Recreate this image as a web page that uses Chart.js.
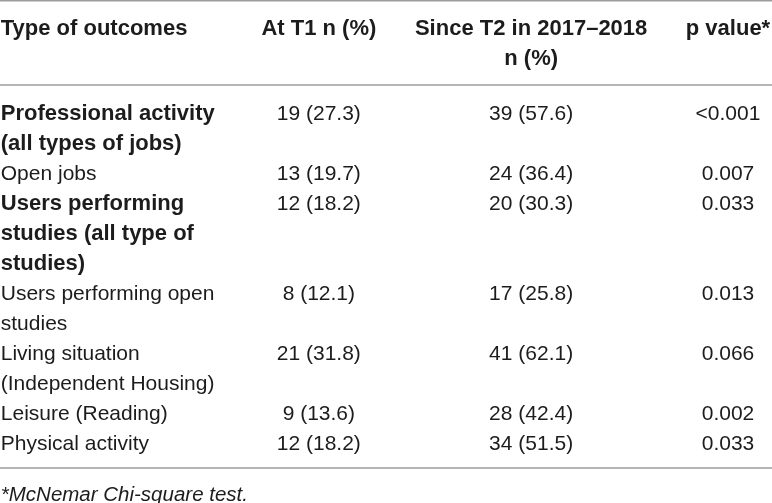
<!DOCTYPE html>
<html>
<head>
<meta charset="utf-8">
<script src="https://cdn.jsdelivr.net/npm/chart.js@4.4.1/dist/chart.umd.min.js"></script>
<style>
  html, body { margin: 0; padding: 0; background: #fff; }
  #wrap { width: 772px; height: 503px; }
</style>
</head>
<body>
<div id="wrap"><canvas id="myTable"></canvas></div>
<script>
// table content
let headers = ['Type of outcomes', 'At T1 n (%)', 'Since T2 in 2017–2018\nn (%)', 'p value*'];
let outcomes = [
    ['Professional activity', '(all types of jobs)'],
    ['Open jobs'],
    ['Users performing', 'studies (all type of', 'studies)'],
    ['Users performing open', 'studies'],
    ['Living situation', '(Independent Housing)'],
    ['Leisure (Reading)'],
    ['Physical activity']
];
let boldRows = [true, false, true, false, false, false, false];
let t1Count = [19, 13, 12, 8, 21, 9, 12];
let t1Pct = [27.3, 19.7, 18.2, 12.1, 31.8, 13.6, 18.2];
let t2Count = [39, 24, 20, 17, 41, 28, 34];
let t2Pct = [57.6, 36.4, 30.3, 25.8, 62.1, 42.4, 51.5];
let pValues = ['<0.001', '0.007', '0.033', '0.013', '0.066', '0.002', '0.033'];
let footnote = '*McNemar Chi-square test.';

// layout: column anchors as share of table width, line units on y
let colAnchor = [0.001, 0.413, 0.688, 0.943];
let colAlign = ['left', 'center', 'center', 'center'];
let headGap = 0.9, bodyStart = 2.833, ruleGap = 0.833, noteGap = 0.87;
let fontFamily = '"Liberation Sans", Arial, Helvetica, sans-serif';
let textColor = '#1c1c1c';
let ruleColor = '#9c9c9c';

let cells = [];
headers.forEach((h, c) => {
    h.split('\n').forEach((txt, i) => {
        cells.push({ x: colAnchor[c], y: i, text: txt, bold: true, align: colAlign[c] });
    });
});
let line = bodyStart;
outcomes.forEach((lines, r) => {
    let vals = [t1Count[r] + ' (' + t1Pct[r].toFixed(1) + ')', t2Count[r] + ' (' + t2Pct[r].toFixed(1) + ')', pValues[r]];
    lines.forEach((txt, i) => {
        cells.push({ x: colAnchor[0], y: line + i, text: txt, bold: boldRows[r], align: 'left' });
    });
    vals.forEach((v, c) => {
        cells.push({ x: colAnchor[c + 1], y: line, text: v, bold: false, align: colAlign[c + 1] });
    });
    line += lines.length;
});
let lastLine = line - 1;
let bottomRule = lastLine + ruleGap;
cells.push({ x: colAnchor[0], y: bottomRule + noteGap, text: footnote, italic: true, align: 'left' });

let tablePlugin = {
    id: 'tablePlugin',
    afterDatasetsDraw(chart) {
        let ctx = chart.ctx;
        let xs = chart.scales.x, ys = chart.scales.y;
        let area = chart.chartArea;
        ctx.save();
        // rules
        ctx.strokeStyle = ruleColor;
        ctx.lineWidth = 1.5;
        [area.top + 0.75, ys.getPixelForValue(1 + headGap), ys.getPixelForValue(bottomRule)].forEach((py) => {
            ctx.beginPath();
            ctx.moveTo(xs.getPixelForValue(0), py);
            ctx.lineTo(xs.getPixelForValue(1), py);
            ctx.stroke();
        });
        // text
        let meta = chart.getDatasetMeta(0);
        ctx.fillStyle = textColor;
        ctx.textBaseline = 'middle';
        meta.data.forEach((el, i) => {
            let d = chart.data.datasets[0].data[i];
            let size = d.bold ? 22 : (d.italic ? 20.5 : 21);
            ctx.font = (d.italic ? 'italic ' : '') + (d.bold ? 'bold ' : '') + size + 'px ' + fontFamily;
            ctx.textAlign = d.align;
            ctx.fillText(d.text, el.x, el.y + 1);
        });
        ctx.restore();
    }
};

let chart = new Chart(document.getElementById('myTable'), {
    type: 'scatter',
    data: {
        datasets: [{
            data: cells,
            pointRadius: 0,
            pointHoverRadius: 0
        }]
    },
    options: {
        responsive: true,
        maintainAspectRatio: false,
        animation: false,
        layout: { padding: 0 },
        plugins: {
            legend: { display: false },
            tooltip: { enabled: false }
        },
        scales: {
            x: { type: 'linear', min: 0, max: 1, display: false },
            y: { type: 'linear', reverse: true, min: -28 / 30, max: 475 / 30, display: false }
        }
    },
    plugins: [tablePlugin]
});
</script>
</body>
</html>
